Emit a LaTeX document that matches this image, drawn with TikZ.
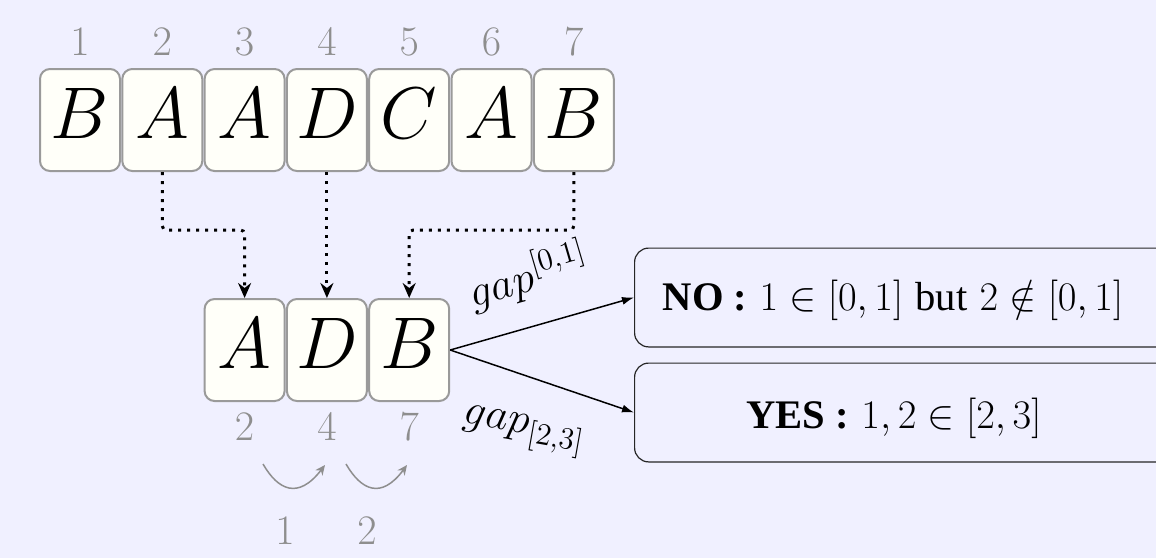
\RequirePackage{fix-cm}
\documentclass[tikz,border=0pt]{standalone}
\usepackage[no-math]{fontspec}
\newfontfamily\tnr{Liberation Serif}
\usetikzlibrary{arrows.meta}
\definecolor{bg}{HTML}{F0F0FF}
\definecolor{boxfill}{HTML}{FFFFF9}
\definecolor{boxdraw}{HTML}{9A9A9A}
\definecolor{numgray}{HTML}{8E8E8E}
\begin{document}
\begin{tikzpicture}[x=0.5pt,y=-0.5pt,
  cell/.style={draw=boxdraw, line width=1pt, fill=boxfill, rounded corners=5pt,
    minimum width=40pt, minimum height=51pt, inner sep=0pt,
    text height=25pt, text depth=7pt, font=\fontsize{36.6}{40}\selectfont},
  idx/.style={text=numgray, inner sep=0pt, anchor=base, font=\fontsize{21}{24}\selectfont},
  dotarrow/.style={line width=1.5pt, dash pattern=on 1.5pt off 3pt, rounded corners=2pt,
    -{Stealth[length=7.5pt,width=6.5pt,inset=2.5pt]}},
  res/.style={draw=black!85, line width=0.6pt, rounded corners=7pt,
    minimum height=49.4pt, minimum width=270pt, inner sep=0pt, anchor=west},
  restext/.style={inner sep=0pt, anchor=base, font=\fontsize{20.3}{24}\selectfont},
  gaplabel/.style={inner sep=0pt, font=\fontsize{22}{26}\selectfont},
  link/.style={line width=0.75pt, -{Latex[length=6pt,width=4pt]}},
  hop/.style={numgray, line width=0.75pt, -{Stealth[length=5pt,width=4.5pt]}}
]
\fill[bg] (0,0) rectangle (1156,558);
\useasboundingbox (0,0) rectangle (1156,558);
\clip (0,0) rectangle (1156,558);

% top row
\foreach \i/\l in {1/B,2/A,3/A,4/D,5/C,6/A,7/B}{
  \node[cell] (t\i) at ({80+82.3*(\i-1)},120) {$\l$};
  \node[idx] (ti\i) at ({80+82.3*(\i-1)},55) {$\i$};
}

% bottom row
\node[cell] (b1) at (244.6,350) {$A$};
\node[cell] (b2) at (326.9,350) {$D$};
\node[cell] (b3) at (409.2,350) {$B$};
\node[idx] (bi1) at (244.6,440) {$2$};
\node[idx] (bi2) at (326.9,440) {$4$};
\node[idx] (bi3) at (409.2,440) {$7$};
\node[idx] (g1) at (285,544) {$1$};
\node[idx] (g2) at (367,544) {$2$};

% dotted arrows
\draw[dotarrow] (t2.south) -- ++(0,58) -| (b1.north);
\draw[dotarrow] (t4.south) -- (b2.north);
\draw[dotarrow] (t7.south) -- ++(0,58) -| (b3.north);

% hop arrows
\coordinate (h1s) at (263,464);
\coordinate (h1e) at (325,465);
\coordinate (h2s) at (346,464);
\coordinate (h2e) at (407,465);
\draw[hop] (h1s) .. controls (278,490) and (298,500) .. (h1e);
\draw[hop] (h2s) .. controls (361,490) and (381,500) .. (h2e);

% result boxes
\node[res] (nobox) at (634,297.5) {};
\node[res] (yesbox) at (634,412.5) {};
\node[restext] (notext) at (893,310) {{\tnr\bfseries NO :} $1\in[0,1]$ {\tnr but} $2\notin[0,1]$};
\node[restext] (yestext) at (894,428) {{\tnr\bfseries YES :} $1,2\in[2,3]$};

\draw[link] (b3.east) -- (nobox.west);
\draw[link] (b3.east) -- (yesbox.west);

\node[gaplabel, rotate=16.3] (lab1) at (528,276) {$gap^{[0,1]}$};
\node[gaplabel, rotate=-10] (lab2) at (523,432) {$gap_{[2,3]}$};
\end{tikzpicture}
\end{document}
